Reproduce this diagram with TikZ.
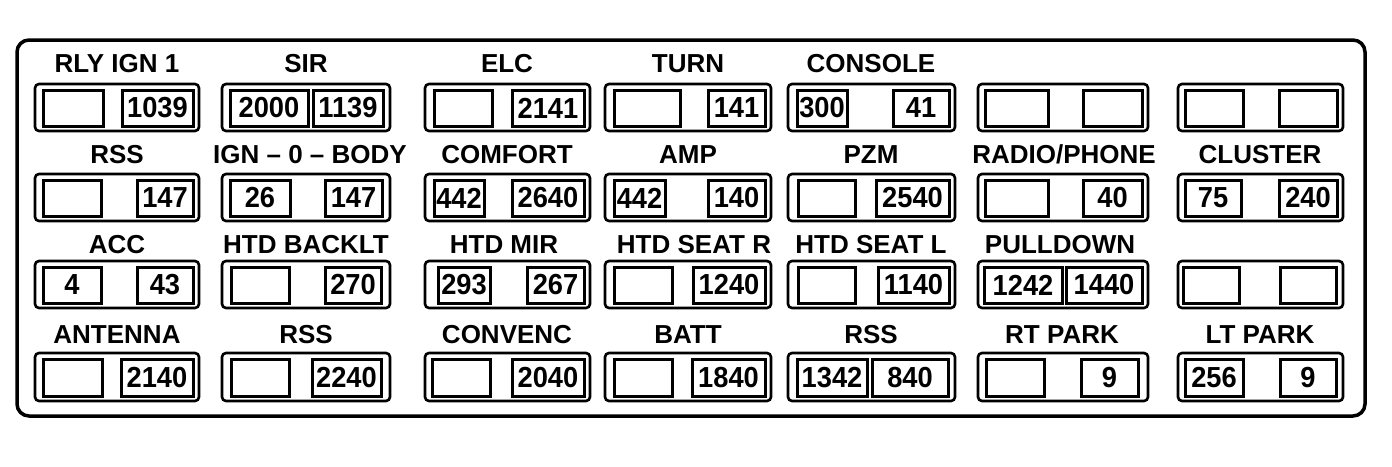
\documentclass[tikz,border=0pt]{standalone}
\usepackage{fontspec}
\setmainfont{Liberation Sans}
\newfontfamily\numfam[FakeStretch=0.94]{Liberation Sans}
\usetikzlibrary{fit}
\newcommand\lblF{\fontsize{26}{28}\selectfont\bfseries}
\newcommand\numF{\numfam\fontsize{29}{31}\selectfont\bfseries}
\tikzset{
  frame/.style={draw, line width=3.5pt, rounded corners=12pt},
  slotbox/.style={draw, line width=2.6pt, rounded corners=4pt, inner sep=0pt},
  fuse/.style={draw, line width=3pt, inner sep=0pt},
  fusetxt/.style={font=\numF, inner sep=0pt},
  lbl/.style={font=\lblF, anchor=base, inner sep=0pt},
}
% \slotbx: name, x1, x2, ytop, ybot
\newcommand\slotbx[5]{\node[slotbox, fit={(#2,#4) (#3,#5)}] (#1) {};}
% \fz: name, x1, x2, ytop, ybot, text
\newcommand\fz[6]{\node[fuse, fit={(#2,#4) (#3,#5)}] (#1) {};
  \node[fusetxt] (#1t) at (#1.center) {#6};}
\begin{document}
\begin{tikzpicture}[x=1pt, y=-1pt]
\useasboundingbox (0,0) rectangle (1392,466);
\draw[frame] (17,40) rectangle (1365,416);

% ---------------- Row 1 ----------------
\node[lbl] (l11) at (117,72) {RLY IGN 1};
\node[lbl] (l12) at (306,72) {SIR};
\node[lbl] (l13) at (507,72) {ELC};
\node[lbl] (l14) at (688,72) {TURN};
\node[lbl] (l15) at (871,72) {CONSOLE};

\slotbx{s11}{35}{199}{84}{131}
\fz{f11a}{43}{103}{90}{126}{}
\fz{f11b}{122}{193}{90}{126}{1039}
\slotbx{s12}{222}{390}{84}{131}
\fz{f12a}{230}{308}{90}{126}{2000}
\fz{f12b}{313}{383}{90}{126}{1139}
\slotbx{s13}{425}{590}{84}{131}
\fz{f13a}{434}{492}{90}{126}{}
\fz{f13b}{512}{584}{90}{126}{2141}
\slotbx{s14}{605}{771}{84}{131}
\fz{f14a}{614}{680}{90}{126}{}
\fz{f14b}{708}{765}{90}{126}{141}
\slotbx{s15}{788}{955}{84}{131}
\fz{f15a}{797}{847}{90}{126}{300}
\fz{f15b}{893}{949}{90}{126}{41}
\slotbx{s16}{978}{1148}{84}{131}
\fz{f16a}{985}{1048}{90}{126}{}
\fz{f16b}{1083}{1142}{90}{126}{}
\slotbx{s17}{1178}{1343}{84}{131}
\fz{f17a}{1185}{1243}{90}{126}{}
\fz{f17b}{1279}{1337}{90}{126}{}

% ---------------- Row 2 ----------------
\node[lbl] (l21) at (117,163) {RSS};
\node[lbl] (l22) at (310,163) {IGN -- 0 -- BODY};
\node[lbl] (l23) at (507,163) {COMFORT};
\node[lbl] (l24) at (688,163) {AMP};
\node[lbl] (l25) at (871,163) {PZM};
\node[lbl] (l26) at (1064,163) {RADIO/PHONE};
\node[lbl] (l27) at (1260,163) {CLUSTER};

\slotbx{s21}{35}{199}{174}{221}
\fz{f21a}{43}{101}{180}{216}{}
\fz{f21b}{137}{193}{180}{216}{147}
\slotbx{s22}{222}{390}{174}{221}
\fz{f22a}{230}{290}{180}{216}{26}
\fz{f22b}{325}{382}{180}{216}{147}
\slotbx{s23}{425}{590}{174}{221}
\fz{f23a}{434}{484}{180}{216}{442}
\fz{f23b}{512}{584}{180}{216}{2640}
\slotbx{s24}{605}{771}{174}{221}
\fz{f24a}{614}{665}{180}{216}{442}
\fz{f24b}{708}{765}{180}{216}{140}
\slotbx{s25}{788}{955}{174}{221}
\fz{f25a}{798}{855}{180}{216}{}
\fz{f25b}{876}{949}{180}{216}{2540}
\slotbx{s26}{978}{1148}{174}{221}
\fz{f26a}{985}{1048}{180}{216}{}
\fz{f26b}{1083}{1142}{180}{216}{40}
\slotbx{s27}{1178}{1343}{174}{221}
\fz{f27a}{1185}{1241}{180}{216}{75}
\fz{f27b}{1279}{1337}{180}{216}{240}

% ---------------- Row 3 ----------------
\node[lbl] (l31) at (117,253) {ACC};
\node[lbl] (l32) at (306,253) {HTD BACKLT};
\node[lbl] (l33) at (504,253) {HTD MIR};
\node[lbl] (l34) at (694,253) {HTD SEAT R};
\node[lbl] (l35) at (871,253) {HTD SEAT L};
\node[lbl] (l36) at (1060,253) {PULLDOWN};

\slotbx{s31}{35}{199}{261}{308}
\fz{f31a}{43}{101}{267}{303}{4}
\fz{f31b}{137}{193}{267}{303}{43}
\slotbx{s32}{222}{390}{261}{308}
\fz{f32a}{231}{289}{267}{303}{}
\fz{f32b}{325}{381}{267}{303}{270}
\slotbx{s33}{425}{590}{261}{308}
\fz{f33a}{438}{490}{267}{303}{293}
\fz{f33b}{527}{584}{267}{303}{267}
\slotbx{s34}{605}{771}{261}{308}
\fz{f34a}{614}{672}{267}{303}{}
\fz{f34b}{693}{765}{267}{303}{1240}
\slotbx{s35}{788}{955}{261}{308}
\fz{f35a}{798}{855}{267}{303}{}
\fz{f35b}{878}{949}{267}{303}{1140}
\slotbx{s36}{978}{1148}{261}{308}
\fz{f36a}{984}{1062}{267}{303}{1242}
\fz{f36b}{1066}{1142}{267}{303}{1440}
\slotbx{s37}{1178}{1343}{261}{308}
\fz{f37a}{1183}{1239}{267}{303}{}
\fz{f37b}{1280}{1336}{267}{303}{}

% ---------------- Row 4 ----------------
\node[lbl] (l41) at (117,343) {ANTENNA};
\node[lbl] (l42) at (306,343) {RSS};
\node[lbl] (l43) at (507,343) {CONVENC};
\node[lbl] (l44) at (688,343) {BATT};
\node[lbl] (l45) at (871,343) {RSS};
\node[lbl] (l46) at (1062,343) {RT PARK};
\node[lbl] (l47) at (1260,343) {LT PARK};

\slotbx{s41}{35}{199}{353}{401}
\fz{f41a}{43}{102}{359}{396}{}
\fz{f41b}{121}{193}{359}{396}{2140}
\slotbx{s42}{222}{390}{353}{401}
\fz{f42a}{231}{289}{359}{396}{}
\fz{f42b}{312}{381}{359}{396}{2240}
\slotbx{s43}{425}{590}{353}{401}
\fz{f43a}{432}{490}{359}{396}{}
\fz{f43b}{512}{584}{359}{396}{2040}
\slotbx{s44}{605}{771}{353}{401}
\fz{f44a}{614}{672}{359}{396}{}
\fz{f44b}{692}{765}{359}{396}{1840}
\slotbx{s45}{788}{955}{353}{401}
\fz{f45a}{797}{867}{359}{396}{1342}
\fz{f45b}{872}{948}{359}{396}{840}
\slotbx{s46}{978}{1148}{353}{401}
\fz{f46a}{986}{1044}{359}{396}{}
\fz{f46b}{1081}{1138}{359}{396}{9}
\slotbx{s47}{1178}{1343}{353}{401}
\fz{f47a}{1185}{1243}{359}{396}{256}
\fz{f47b}{1280}{1336}{359}{396}{9}
\end{tikzpicture}
\end{document}
